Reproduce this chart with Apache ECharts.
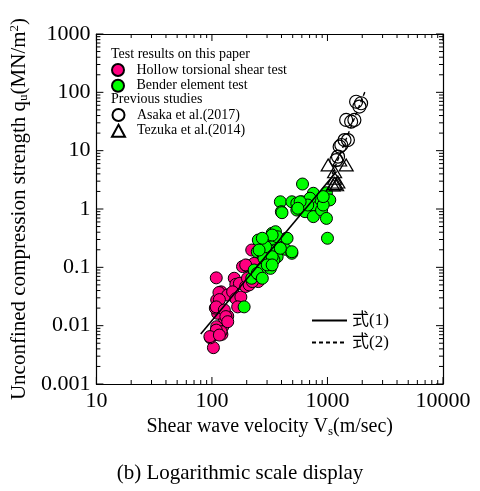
<!DOCTYPE html>
<html>
<head>
<meta charset="utf-8">
<script src="https://cdn.jsdelivr.net/npm/echarts@6/dist/echarts.min.js"></script>
<style>html,body{margin:0;padding:0;background:#fff;}#c{width:480px;height:491px;}</style>
</head>
<body>
<div id="c"></div>
<script>
// ---- data (Vs in m/sec, qu in MN/m^2) ----
const hollowTorsional = [[109,0.066],[103,0.0042],[97,0.0062],[108,0.0071],[122,0.0071],[124,0.0096],[110,0.0096],[128,0.0134],[137,0.0146],[112,0.0163],[107,0.020],[110,0.0275],[120,0.038],[115,0.037],[137,0.0335],[156,0.065],[161,0.051],[173,0.053],[151,0.038],[161,0.029],[178,0.031],[196,0.047],[184,0.103],[199,0.107],[221,0.198],[217,0.057],[203,0.065],[252,0.057],[247,0.069],[232,0.117],[116,0.028],[109,0.021],[128,0.0186],[132,0.0143],[137,0.0117],[120,0.0079],[109,0.0084],[96,0.0065],[116,0.0069],[167,0.021],[210,0.050],[224,0.057],[239,0.079],[196,0.11]];
const benderElement = [[190,0.021],[221,0.065],[232,0.090],[256,0.074],[273,0.096],[252,0.294],[247,0.185],[301,0.275],[332,0.383],[355,0.408],[344,0.294],[332,0.226],[291,0.134],[327,0.117],[321,0.096],[273,0.174],[355,0.198],[367,0.152],[441,0.315],[432,0.204],[492,0.174],[311,0.198],[282,0.143],[344,0.134],[291,0.226],[391,1.33],[399,0.90],[492,1.33],[543,1.25],[600,1.33],[543,0.96],[640,0.90],[608,2.68],[755,1.86],[755,1.17],[755,0.74],[889,0.96],[980,0.69],[877,1.43],[980,1.90],[1047,1.43],[918,1.17],[1000,0.315],[706,1.53],[675,1.17],[404,0.865],[580,1.33],[554,1.03],[918,1.63],[367,0.335],[332,0.358],[447,0.315],[492,0.185],[273,0.315],[256,0.198],[332,0.152],[391,0.212],[247,0.079],[301,0.11],[332,0.11],[273,0.065]];
const asaka2017 = [[1770,69],[1954,65],[1890,57],[1452,33.6],[1710,33.6],[1603,31.4],[1405,15.2],[1503,15.2],[1318,12.5],[1275,11.7],[1234,7.9],[1193,6.9]];
const tezuka2014 = [[1014,5.7],[1452,5.7],[1153,4.36],[1153,3.36],[1119,2.58],[1153,2.75],[1275,6.9],[1200,2.6],[1230,2.9]];
const equation1 = [[80,0.0072],[1200,4.4]];
const equation2 = [[1100,4],[2150,112]];
const xTickLabels = [10,100,1000,10000];
const yTickLabels = [0.001,0.01,0.1,1,10,100,1000];
const seriesNames = ['Hollow torsional shear test','Bender element test','Asaka et al.(2017)','Tezuka et al.(2014)','式(1)','式(2)'];
const headerTexts = ['Test results on this paper','Previous studies'];
const titleText = '(b) Logarithmic scale display';

// minor tick values (2..9 × each decade) built from the decade tick labels
function minorVals(decades){
  const out=[];
  for(let i=0;i<decades.length-1;i++){
    for(let k=2;k<=9;k++) out.push(+(k*decades[i]).toPrecision(6));
  }
  return out;
}
const SERIF = '"Liberation Serif","Times New Roman",serif';
const SERIFCJK = '"Liberation Serif","Noto Sans CJK JP",serif';
const fmt = v => String(+Number(v).toPrecision(6));

const chart = echarts.init(document.getElementById('c'), null, {renderer:'canvas'});
const gridBox = {left:92,right:37,top:34,bottom:107};
const xMin = xTickLabels[0], xMax = xTickLabels[xTickLabels.length-1];
const yMin = yTickLabels[0], yMax = yTickLabels[yTickLabels.length-1];
const MAJOR = 7, MINOR = 4;

// tick marks placed through the axes' own log scales (api.coord), drawn inward on all four sides
const xTickData = xTickLabels.map(v=>[v, yMin, MAJOR]).concat(minorVals(xTickLabels).map(v=>[v, yMin, MINOR]));
const yTickData = yTickLabels.map(v=>[xMin, v, MAJOR]).concat(minorVals(yTickLabels).map(v=>[xMin, v, MINOR]));
function tickLine(x1,y1,x2,y2){ return {type:'line', shape:{x1:x1,y1:y1,x2:x2,y2:y2}, style:{stroke:'#000', lineWidth:1}}; }
function renderXTick(params, api){
  const v = api.value(0), len = api.value(2);
  const b = api.coord([v, yMin]), t = api.coord([v, yMax]);
  return {type:'group', children:[tickLine(b[0],b[1],b[0],b[1]-len), tickLine(t[0],t[1],t[0],t[1]+len)]};
}
function renderYTick(params, api){
  const v = api.value(1), len = api.value(2);
  const l = api.coord([xMin, v]), r = api.coord([xMax, v]);
  return {type:'group', children:[tickLine(l[0],l[1],l[0]+len,l[1]), tickLine(r[0],r[1],r[0]-len,r[1])]};
}

function logAxis(pos, min, max, extra){
  return Object.assign({
    type:'log', position:pos, min:min, max:max,
    axisLine:{show:true,lineStyle:{color:'#000',width:1.2}},
    axisTick:{show:false},
    splitLine:{show:false},
    axisLabel:{show:false},
  }, extra||{});
}
const legendText = {color:'#000',fontFamily:SERIF,fontSize:14,lineHeight:12,padding:[0,0,0,7]};

const option = {
  backgroundColor:'#fff',
  animation:false,
  grid: gridBox,
  xAxis:[
    logAxis('bottom', xMin, xMax, {
      axisLabel:{show:true,formatter:fmt,color:'#000',fontFamily:SERIF,fontSize:22,margin:6},
      name:'{a|Shear wave velocity V}{s|s}{a|(m/sec)}', nameLocation:'middle', nameGap:32,
      nameTextStyle:{color:'#000',fontFamily:SERIF,fontSize:20, rich:{
        a:{fontFamily:SERIF,fontSize:20,lineHeight:22,verticalAlign:'middle',color:'#000'},
        s:{fontFamily:SERIF,fontSize:13,lineHeight:12,verticalAlign:'bottom',color:'#000'}}}
    }),
    logAxis('top', xMin, xMax)
  ],
  yAxis:[
    logAxis('left', yMin, yMax, {
      axisLabel:{show:true,formatter:fmt,color:'#000',fontFamily:SERIF,fontSize:22,margin:6},
      name:'{a|Unconfined compression strength q}{s|u}{a|(MN/m}{p|2}{a|)}', nameLocation:'middle', nameGap:60,
      nameTextStyle:{color:'#000',fontFamily:SERIF,fontSize:21, rich:{
        a:{fontFamily:SERIF,fontSize:21,lineHeight:22,verticalAlign:'middle',color:'#000'},
        s:{fontFamily:SERIF,fontSize:13,lineHeight:12,verticalAlign:'bottom',color:'#000'},
        p:{fontFamily:SERIF,fontSize:13,lineHeight:12,verticalAlign:'top',color:'#000'}}}
    }),
    logAxis('right', yMin, yMax)
  ],
  legend:[
    {data:[seriesNames[0],seriesNames[1]], orient:'vertical', left:111, top:63, padding:0, itemWidth:13, itemHeight:12, itemGap:1.8,
     textStyle:legendText, selectedMode:false},
    {data:[seriesNames[2],seriesNames[3]], orient:'vertical', left:111, top:108, padding:0, itemWidth:13, itemHeight:12, itemGap:1.8,
     textStyle:legendText, selectedMode:false},
    {data:[seriesNames[4],seriesNames[5]], orient:'vertical', left:311, top:312, padding:0, itemWidth:35, itemHeight:14, itemGap:5,
     itemStyle:{opacity:0},
     textStyle:{color:'#000',fontFamily:SERIFCJK,fontSize:17,lineHeight:14}, selectedMode:false}
  ],
  graphic:[
    {type:'text', left:111, top:47, style:{text:headerTexts[0], font:'14px '+SERIF, fill:'#000'}},
    {type:'text', left:111, top:92, style:{text:headerTexts[1], font:'14px '+SERIF, fill:'#000'}},
    {type:'text', left:'center', top:463, style:{text:titleText, font:'21px '+SERIF, fill:'#000'}}
  ],
  series:[
    {name:seriesNames[0], type:'scatter', xAxisIndex:0, yAxisIndex:0, data:hollowTorsional, symbol:'circle', symbolSize:12,
     itemStyle:{color:'#ff0080',borderColor:'#000',borderWidth:1,opacity:1}, z:2},
    {name:seriesNames[1], type:'scatter', xAxisIndex:0, yAxisIndex:0, data:benderElement, symbol:'circle', symbolSize:12,
     itemStyle:{color:'#00ff00',borderColor:'#000',borderWidth:1,opacity:1}, z:3},
    {name:seriesNames[2], type:'scatter', xAxisIndex:0, yAxisIndex:0, data:asaka2017, symbol:'circle', symbolSize:13,
     itemStyle:{color:'rgba(255,255,255,0)',borderColor:'#000',borderWidth:1.2,opacity:1}, z:4},
    {name:seriesNames[3], type:'scatter', xAxisIndex:0, yAxisIndex:0, data:tezuka2014, symbol:'triangle', symbolSize:[14,12],
     itemStyle:{color:'rgba(255,255,255,0)',borderColor:'#000',borderWidth:1.2,opacity:1}, z:4},
    {name:seriesNames[4], type:'line', xAxisIndex:0, yAxisIndex:0, data:equation1, symbol:'none', silent:true,
     lineStyle:{color:'#000',width:1.6,type:'solid'}, itemStyle:{color:'#000'}, z:5},
    {name:seriesNames[5], type:'line', xAxisIndex:0, yAxisIndex:0, data:equation2, symbol:'none', silent:true,
     lineStyle:{color:'#000',width:1.4,type:[4,3]}, itemStyle:{color:'#000'}, z:5},
    {name:'xTicks', type:'custom', coordinateSystem:'cartesian2d', xAxisIndex:0, yAxisIndex:0, data:xTickData,
     renderItem:renderXTick, silent:true, clip:false, z:6, encode:{x:0,y:1}},
    {name:'yTicks', type:'custom', coordinateSystem:'cartesian2d', xAxisIndex:0, yAxisIndex:0, data:yTickData,
     renderItem:renderYTick, silent:true, clip:false, z:6, encode:{x:0,y:1}}
  ]
};
chart.setOption(option);
</script>
</body>
</html>
